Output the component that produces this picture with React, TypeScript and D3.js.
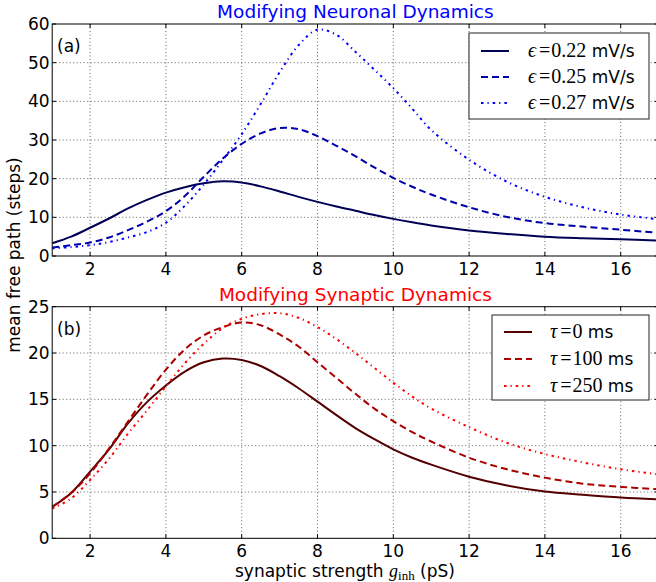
import React from "react";
import * as d3 from "d3";

const xs = [1, 1.5, 2, 2.5, 3, 3.5, 4, 4.5, 5, 5.5, 6, 6.5, 7, 7.5, 8, 8.5, 9, 9.5, 10, 10.5, 11, 12, 13, 14, 15, 16, 17];

// Panel (a): modifying neuronal dynamics
const eps022 = [3.3, 5.0, 7.3, 9.7, 12.3, 14.5, 16.4, 17.8, 18.8, 19.3, 19.0, 18.0, 16.7, 15.3, 14.0, 12.8, 11.7, 10.6, 9.6, 8.7, 7.9, 6.6, 5.7, 5.0, 4.6, 4.3, 4.0];
const eps025 = [2.2, 2.8, 3.5, 4.8, 6.7, 8.9, 11.6, 15.5, 20.5, 25.2, 29.0, 31.7, 33.1, 32.8, 31.0, 28.5, 25.8, 22.9, 20.2, 17.9, 15.9, 12.6, 10.1, 8.5, 7.6, 6.8, 6.0];
const eps027 = [2.0, 2.3, 2.8, 3.6, 4.8, 6.2, 8.6, 13.0, 18.5, 24.8, 31.5, 39.3, 47.5, 54.5, 58.5, 57.2, 52.8, 48.2, 43.4, 38.1, 32.6, 24.9, 19.2, 15.3, 12.6, 10.7, 9.5];

// Panel (b): modifying synaptic dynamics
const tau0 = [3.4, 4.9, 7.2, 9.6, 12.4, 14.7, 16.5, 18.0, 19.0, 19.4, 19.25, 18.6, 17.5, 16.2, 14.75, 13.3, 11.9, 10.7, 9.6, 8.7, 7.95, 6.65, 5.7, 5.05, 4.7, 4.4, 4.2];
const tau100 = [3.4, 4.9, 7.0, 9.7, 12.6, 15.5, 18.2, 20.4, 21.9, 22.8, 23.3, 23.0, 22.0, 20.7, 19.0, 17.3, 15.6, 14.0, 12.65, 11.45, 10.45, 8.7, 7.45, 6.55, 5.9, 5.55, 5.3];
const tau250 = [3.2, 4.3, 6.3, 8.6, 11.3, 13.8, 16.4, 18.9, 21.0, 22.7, 23.7, 24.2, 24.3, 23.8, 22.8, 21.5, 20.0, 18.4, 16.8, 15.3, 14.0, 12.0, 10.3, 9.1, 8.2, 7.45, 6.9];

const xTicks = [2, 4, 6, 8, 10, 12, 14, 16];
const yTicksA = [0, 10, 20, 30, 40, 50, 60];
const yTicksB = [0, 5, 10, 15, 20, 25];

const labelsA = ["0.22", "0.25", "0.27"];
const labelsB = ["0", "100", "250"];

const W = 656, H = 582;
const X0 = 52.2, X1 = 658.6;
const FONT = "DejaVu Sans, sans-serif";
const SERIF = "Liberation Serif, DejaVu Serif, serif";

const styles = [
  { dash: undefined as string | undefined },
  { dash: "7,4" },
  { dash: "2.5,4,1.2,4" },
];

type PanelProps = {
  id: string;
  top: number;
  bottom: number;
  yMax: number;
  yTicks: number[];
  series: number[][];
  colors: string[];
  title: string;
  titleColor: string;
  tag: string;
  legend: { x: number; y: number; w: number; h: number; lineX: number; textX: number; rows: number[]; labels: React.ReactNode[] };
};

function Panel(p: PanelProps) {
  const x = d3.scaleLinear().domain([1, 17]).range([X0, X1]);
  const y = d3.scaleLinear().domain([0, p.yMax]).range([p.bottom, p.top]);
  const line = d3
    .line<[number, number]>()
    .x((d) => x(d[0]))
    .y((d) => y(d[1]))
    .curve(d3.curveCatmullRom.alpha(0.5));
  const clipId = "clip-" + p.id;
  const grid = "#222";
  return (
    <g>
      <defs>
        <clipPath id={clipId}>
          <rect x={X0} y={p.top} width={X1 - X0} height={p.bottom - p.top} />
        </clipPath>
      </defs>
      <rect x={X0} y={p.top} width={X1 - X0} height={p.bottom - p.top} fill="#fff" />
      {xTicks.map((t) => (
        <line key={"gx" + t} x1={x(t)} x2={x(t)} y1={p.top} y2={p.bottom} stroke={grid} strokeWidth={0.7} strokeDasharray="1,2.5" />
      ))}
      {p.yTicks.slice(1, -1).map((t) => (
        <line key={"gy" + t} x1={X0} x2={X1} y1={y(t)} y2={y(t)} stroke={grid} strokeWidth={0.7} strokeDasharray="1,2.5" />
      ))}
      <g clipPath={`url(#${clipId})`}>
        {p.series.map((s, i) => (
          <path
            key={i}
            d={line(xs.map((xv, j) => [xv, s[j]] as [number, number])) || ""}
            fill="none"
            stroke={p.colors[i]}
            strokeWidth={2}
            strokeDasharray={styles[i].dash}
          />
        ))}
      </g>
      {xTicks.map((t) => (
        <g key={"tx" + t}>
          <line x1={x(t)} x2={x(t)} y1={p.bottom} y2={p.bottom - 4} stroke="#000" strokeWidth={1} />
          <line x1={x(t)} x2={x(t)} y1={p.top} y2={p.top + 4} stroke="#000" strokeWidth={1} />
          <text x={x(t)} y={p.bottom + 19} textAnchor="middle" fontFamily={FONT} fontSize={17} fill="#000">
            {t}
          </text>
        </g>
      ))}
      {p.yTicks.map((t) => (
        <g key={"ty" + t}>
          <line x1={X0} x2={X0 + 4} y1={y(t)} y2={y(t)} stroke="#000" strokeWidth={1} />
          <line x1={X1} x2={X1 - 4} y1={y(t)} y2={y(t)} stroke="#000" strokeWidth={1} />
          <text x={X0 - 2.5} y={y(t)} dy="0.36em" textAnchor="end" fontFamily={FONT} fontSize={17} fill="#000">
            {t}
          </text>
        </g>
      ))}
      <rect x={X0} y={p.top} width={X1 - X0} height={p.bottom - p.top} fill="none" stroke="#000" strokeWidth={1} />
      <text x={57} y={p.top + 28} fontFamily={FONT} fontSize={17} fill="#000">
        {p.tag}
      </text>
      <text x={(X0 + X1) / 2} y={p.top - 6} textAnchor="middle" fontFamily={FONT} fontSize={18.5} fill={p.titleColor}>
        {p.title}
      </text>
      <rect x={p.legend.x} y={p.legend.y} width={p.legend.w} height={p.legend.h} fill="#fff" stroke="#222" strokeWidth={1} />
      {p.legend.rows.map((ry, i) => (
        <g key={"lg" + i}>
          <line x1={p.legend.lineX} x2={p.legend.lineX + 28} y1={ry} y2={ry} stroke={p.colors[i]} strokeWidth={2} strokeDasharray={styles[i].dash} />
          <text x={p.legend.textX} y={ry} dy="0.36em" fontSize={17} fill="#000">
            {p.legend.labels[i]}
          </text>
        </g>
      ))}
    </g>
  );
}

export default function App() {
  const legA = labelsA.map((l) => (
    <>
      <tspan fontFamily={SERIF} fontStyle="italic" fontSize={20}>ϵ</tspan>
      <tspan fontFamily={SERIF} fontSize={20} dx={3}>=</tspan>
      <tspan fontFamily={SERIF} fontSize={20} dx={1}>{l}</tspan>
      <tspan fontFamily={FONT} fontSize={17}> mV/s</tspan>
    </>
  ));
  const legB = labelsB.map((l) => (
    <>
      <tspan fontFamily={SERIF} fontStyle="italic" fontSize={20}>τ</tspan>
      <tspan fontFamily={SERIF} fontSize={20} dx={3}>=</tspan>
      <tspan fontFamily={SERIF} fontSize={20} dx={1}>{l}</tspan>
      <tspan fontFamily={FONT} fontSize={17}> ms</tspan>
    </>
  ));
  return (
    <svg width={W} height={H} viewBox={`0 0 ${W} ${H}`} style={{ position: "absolute", left: 0, top: 0, background: "#fff" }}>
      <rect x={0} y={0} width={W} height={H} fill="#fff" />
      <Panel
        id="a"
        top={24}
        bottom={256}
        yMax={60}
        yTicks={yTicksA}
        series={[eps022, eps025, eps027]}
        colors={["#000055", "#0000aa", "#0000ff"]}
        title="Modifying Neuronal Dynamics"
        titleColor="#0000ff"
        tag="(a)"
        legend={{ x: 469, y: 33, w: 180, h: 86, lineX: 481, textX: 528, rows: [51, 77, 103], labels: legA }}
      />
      <Panel
        id="b"
        top={306.7}
        bottom={538.3}
        yMax={25}
        yTicks={yTicksB}
        series={[tau0, tau100, tau250]}
        colors={["#550000", "#aa0000", "#ff0000"]}
        title="Modifying Synaptic Dynamics"
        titleColor="#ff0000"
        tag="(b)"
        legend={{ x: 492, y: 315, w: 157, h: 85, lineX: 504, textX: 550, rows: [332, 359, 386], labels: legB }}
      />
      <text transform="translate(20,255) rotate(-90)" textAnchor="middle" fontFamily={FONT} fontSize={17} fill="#000">
        mean free path (steps)
      </text>
      <text x={235} y={577} fontSize={17} fill="#000">
        <tspan fontFamily={FONT}>synaptic strength </tspan>
        <tspan fontFamily={SERIF} fontStyle="italic" fontSize={18}>g</tspan>
        <tspan fontFamily={SERIF} fontSize={13} dy={3}>inh</tspan>
        <tspan fontFamily={FONT} dy={-3}> (pS)</tspan>
      </text>
    </svg>
  );
}
